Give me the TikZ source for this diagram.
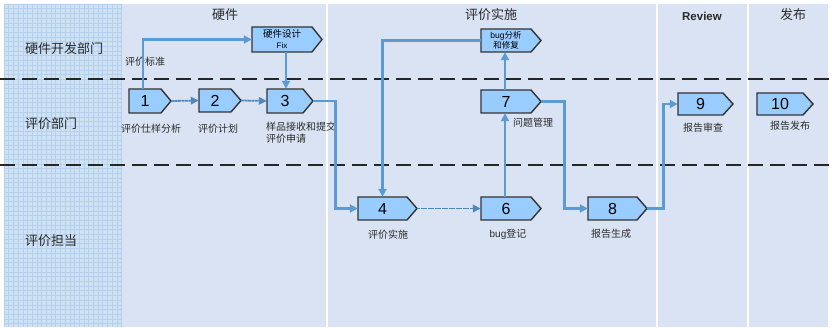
\documentclass[tikz,border=0pt]{standalone}
\usepackage{fontspec}
\setmainfont{Liberation Sans}
\newfontfamily\cjk{Noto Sans CJK SC}
\usetikzlibrary{arrows.meta,calc}
\definecolor{mainbg}{HTML}{DAE3F3}
\definecolor{leftbg}{HTML}{CFE2F4}
\definecolor{gridc}{HTML}{B4D0EC}
\definecolor{boxfill}{HTML}{99CCFF}
\definecolor{boxline}{HTML}{333333}
\definecolor{flowc}{HTML}{5B9BD5}
\definecolor{txt}{HTML}{2A2A2A}
\newcommand{\numfont}{\fontsize{16}{16}\selectfont}
\tikzset{
  boxstyle/.style={fill=boxfill,draw=boxline,line width=1.4pt,line join=miter},
  flow/.style={draw=flowc,line width=2.9pt,-{Triangle[length=8pt,width=8pt]}},
  thinflow/.style={draw=flowc!88!black,line width=1.8pt,dash pattern=on 3pt off 0.5pt,-{Triangle[length=8pt,width=7.5pt]}},
  lbl/.style={font=\cjk\fontsize{10}{11.5}\selectfont,text=txt,inner sep=0pt},
  rowlbl/.style={font=\cjk\fontsize{13}{13}\selectfont,text=txt,inner sep=0pt},
  collbl/.style={font=\cjk\fontsize{13}{13}\selectfont,text=txt,inner sep=0pt},
  sepline/.style={draw=white,line width=2pt},
  lanedash/.style={draw=black!85,line width=2.2pt,dash pattern=on 15pt off 7pt}
}
\newcommand{\procbox}[6]{%
  \pgfmathsetmacro\pbx{#3-10}%
  \pgfmathsetmacro\pby{(#4+#5)/2}%
  \draw[boxstyle] (#2,#4) -- (\pbx,#4) -- (#3,\pby) -- (\pbx,#5) -- (#2,#5) -- cycle;
  \node[inner sep=0pt,minimum width={#3-#2},minimum height={#5-#4}] (#1) at ({(#2+#3)/2},\pby) {};
  \node[inner sep=0pt,align=center] (#1-t) at ({(#2+\pbx)/2},\pby) {#6};
}
\begin{document}
\begin{tikzpicture}[x=1pt,y=-1pt]
\useasboundingbox (0,0) rectangle (832,328);
\fill[white] (0,0) rectangle (832,328);
% backgrounds
\fill[leftbg] (4,4) rectangle (122,327);
\begin{scope}
\clip (4,4) rectangle (122,327);
\foreach \i in {0,...,70} {
  \draw[gridc,line width=0.45pt] ({4+\i*4.7},4) -- ({4+\i*4.7},327);
  \draw[gridc,line width=0.45pt] (4,{4+\i*4.7}) -- (122,{4+\i*4.7});
}
\end{scope}
\fill[mainbg] (122,4) rectangle (828,327);
\draw[sepline] (326.5,4) -- (326.5,327);
\draw[sepline] (657,4) -- (657,327);
\draw[sepline] (748,4) -- (748,327);
% lane dashes
\draw[lanedash] (0,79) -- (832,79);
\draw[lanedash] (0,165) -- (832,165);
% headers
\node[collbl] (h1) at (225,15) {硬件};
\node[collbl] (h2) at (491,15) {评价实施};
\node[font=\bfseries\fontsize{11.5}{12}\selectfont,text=txt,inner sep=0pt] (h3) at (702,16) {Review};
\node[collbl] (h4) at (793,15) {发布};
% row labels
\node[rowlbl,anchor=west] (r1) at (25,49) {硬件开发部门};
\node[rowlbl,anchor=west] (r2) at (25,124) {评价部门};
\node[rowlbl,anchor=west] (r3) at (25,241) {评价担当};
% process boxes
\procbox{n1}{129}{171}{89}{113}{\numfont 1}
\procbox{n2}{199}{241}{89}{112}{\numfont 2}
\procbox{n3}{267}{313}{89}{113}{\numfont 3}
\procbox{hw}{252}{322}{27}{52}{{\cjk\fontsize{9.5}{10}\selectfont 硬件设计}\\[-1pt]{\fontsize{8}{9}\selectfont Fix}}
\procbox{bug}{481}{541}{29}{52}{{\fontsize{8.5}{8.5}\selectfont bug\cjk 分析}\\[-2pt]{\cjk\fontsize{8.5}{8.5}\selectfont 和修复}}
\procbox{n7}{481}{541}{90}{113}{\numfont 7}
\procbox{n9}{678}{733}{93}{115}{\numfont 9}
\procbox{n10}{757}{813}{93}{115}{\numfont 10}
\procbox{n4}{358}{417}{197}{220}{\numfont 4}
\procbox{n6}{481}{541}{197}{220}{\numfont 6}
\procbox{n8}{588}{647}{197}{220}{\numfont 8}
% labels
\node[lbl] (l1) at (151,129) {评价仕样分析};
\node[lbl] (l2) at (218,129) {评价计划};
\node[lbl,anchor=north west,align=left] (l3) at (266,122) {样品接收和提交\\评价申请};
\node[lbl] (l4) at (388,235) {评价实施};
\node[lbl] (l6) at (508,234) {{\rmfamily\fontsize{10}{11}\selectfont bug}登记};
\node[lbl] (l7) at (533,123) {问题管理};
\node[lbl] (l8) at (611,234) {报告生成};
\node[lbl] (l9) at (703,128) {报告审查};
\node[lbl] (l10) at (790,126) {报告发布};
\node[lbl] (lstd) at (145,62) {评价标准};
% connectors
\draw[flow] ([xshift=-7pt]n1.north) |- (hw.west);
\draw[thinflow] (n1.east) -- (n2.west);
\draw[thinflow] (n2.east) -- (n3.west);
\draw[flow] ([xshift=-1pt]hw.south) -- ([xshift=-1pt]hw.south |- n3.north);
\draw[flow] (n3.east) -- ++(22,0) |- (n4.west);
\draw[flow] (bug.west) -| ([xshift=-5pt]n4.north);
\draw[thinflow] (n4.east) -- (n6.west);
\draw[flow] ([xshift=-6pt]n6.north) -- ([xshift=-6pt]n7.south);
\draw[flow] ([xshift=-6pt]n7.north) -- ([xshift=-6pt]bug.south);
\draw[flow] (n7.east) -- ++(23,0) |- (n8.west);
\draw[flow] (n8.east) -- ++(16,0) |- (n9.west);
\end{tikzpicture}
\end{document}
